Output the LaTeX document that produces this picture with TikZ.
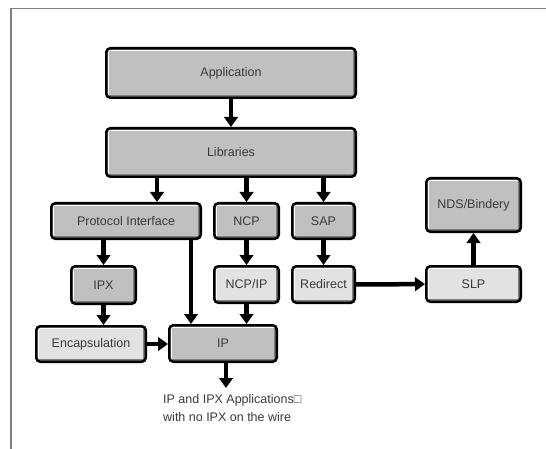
\documentclass[tikz,border=0pt]{standalone}
\usepackage{fontspec}
\setmainfont{Liberation Sans}
\usetikzlibrary{arrows.meta,positioning}
\definecolor{boxdark}{HTML}{C0C0C0}
\definecolor{boxlight}{HTML}{E2E2E2}
\definecolor{labelgray}{HTML}{3A3A3A}

\begin{document}
\begin{tikzpicture}[x=1pt,y=-1pt,% one unit = one pixel of the screenshot, y downwards
    every node/.style={font=\fontsize{12.5}{18}\selectfont, text=labelgray},
    layer/.style={draw=black, line width=2.6pt, rounded corners=4pt, inner sep=0pt,
      path picture={% bevel just inside the border
        \draw[white, line width=1.3pt, sharp corners]
          ([shift={(2.2pt,2.2pt)}]path picture bounding box.south west)
          |- ([shift={(-2.2pt,-2.2pt)}]path picture bounding box.north east);
        \draw[black!50, line width=1.3pt, sharp corners]
          ([shift={(2.2pt,2.2pt)}]path picture bounding box.south west)
          -| ([shift={(-2.2pt,-2.2pt)}]path picture bounding box.north east);
      }},
    dark/.style={layer, fill=boxdark},
    light/.style={layer, fill=boxlight},
    link/.style={line width=4.5pt, -{Triangle[length=10pt,width=13.5pt]}}]

\useasboundingbox (0,0) rectangle (546,449);
\draw[gray, line width=1.5pt] (546,8.5) -- (11,8.5) -- (11,449); % window frame

% upper stack
\node[dark, minimum width=249.4pt, minimum height=49.4pt] (app) at (231,73) {Application};
\node[dark, minimum width=249.4pt, minimum height=48.4pt] (lib) at (231,152.5) {Libraries};

% middle row
\node[dark, minimum width=149.4pt, minimum height=35.4pt] (pi) at (126,221) {Protocol Interface};
\node[dark, minimum width=64.4pt, minimum height=35.4pt] (ncp) at (246.5,221) {NCP};
\node[dark, minimum width=62.4pt, minimum height=35.4pt] (sap) at (323.5,221) {SAP};
\node[dark, minimum width=94.4pt, minimum height=53.4pt] (nds) at (473.5,205) {NDS/Bindery};

% lower rows
\node[dark, minimum width=64.4pt, minimum height=37.4pt] (ipx) at (103.5,285) {IPX};
\node[light, minimum width=64.4pt, minimum height=36.4pt] (ncpip) at (246.5,284.5) {NCP/IP};
\node[light, minimum width=62.4pt, minimum height=36.4pt] (redir) at (323.5,284.5) {Redirect};
\node[light, minimum width=94.4pt, minimum height=35.4pt] (slp) at (473.5,284) {SLP};
\node[light, minimum width=109.4pt, minimum height=35.4pt] (enc) at (91,344) {Encapsulation};
\node[dark, minimum width=107.4pt, minimum height=36.4pt] (ip) at (223,343.5) {IP};

\node[anchor=north west, align=left, inner sep=0pt] (note) at (163,394)
  {IP and IPX Applications□\\with no IPX on the wire};

% connectors
\coordinate (piin) at ([xshift=31pt]pi.north);
\coordinate (ipin) at ([xshift=-32pt]ip.north);
\coordinate (ipout) at ([xshift=3pt]ip.south);

\draw[link] (app) -- (lib);
\draw[link] (piin |- lib.south) -- (piin);
\draw[link] (ncp.north |- lib.south) -- (ncp.north);
\draw[link] (sap.north |- lib.south) -- (sap.north);
\draw[link] (ipx.north |- pi.south) -- (ipx.north);
\draw[link] (ipin |- pi.south) -- (ipin);
\draw[link] (ipx.south) -- (ipx.south |- enc.north);
\draw[link] (ncp) -- (ncpip);
\draw[link] (sap) -- (redir);
\draw[link] (ncpip.south) -- (ncpip.south |- ip.north);
\draw[link] (enc.east) -- (enc.east -| ip.west);
\draw[link] (redir) -- (slp);
\draw[link] (slp) -- (nds);
\draw[link, shorten >=6pt] (ipout) -- (ipout |- note.north);

\end{tikzpicture}
\end{document}
